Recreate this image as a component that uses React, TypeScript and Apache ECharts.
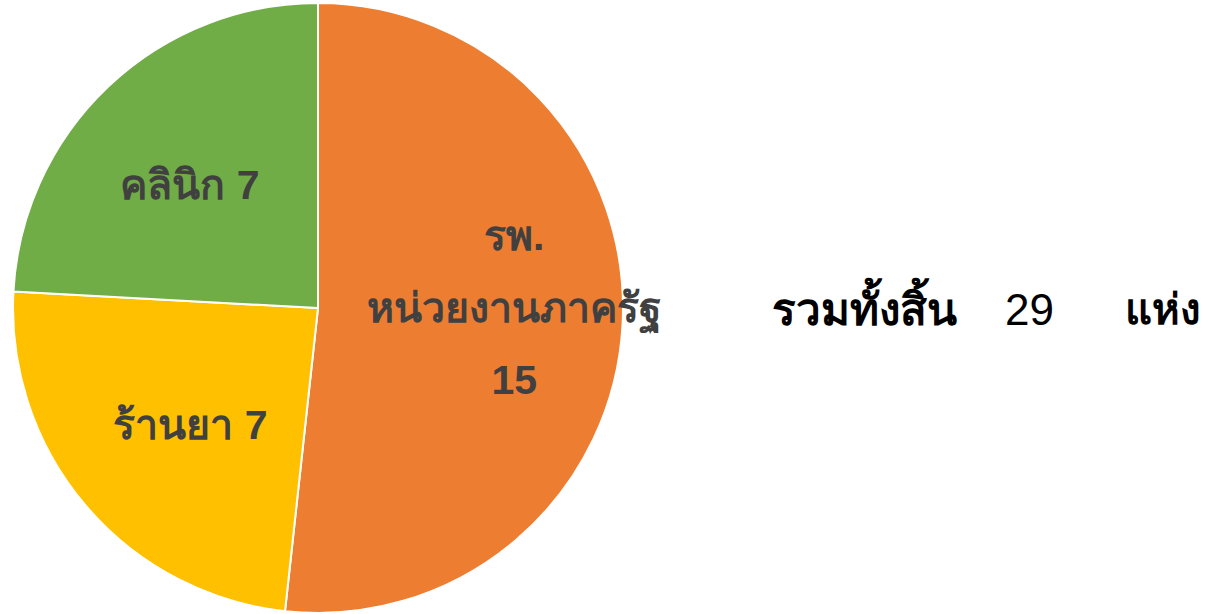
import React, { useEffect, useRef } from "react";
import * as echarts from "echarts";

const categories = ["รพ.\nหน่วยงานภาครัฐ", "ร้านยา", "คลินิก"];
const values = [15, 7, 7];
const colors = ["#ED7D31", "#FFC000", "#70AD47"];
const totalParts = ["รวมทั้งสิ้น", "29", "แห่ง"];

export default function App() {
  const ref = useRef<HTMLDivElement>(null);
  useEffect(() => {
    document.body.style.margin = "0";
    const chart = echarts.init(ref.current!, null, { renderer: "svg" });
    const offsets = [
      [41, -8],
      [-9, 16],
      [-21, -10],
    ];
    const partX = [772, 1005, 1125];
    const partSize = [44, 44, 42];
    const partWeight = ["bold", "normal", "bold"];
    const font = "Liberation Sans, Noto Sans, DejaVu Sans, sans-serif";
    chart.setOption({
      animation: false,
      backgroundColor: "#ffffff",
      series: [
        {
          type: "pie",
          center: [318, 308],
          radius: [0, 305],
          startAngle: 90,
          clockwise: true,
          avoidLabelOverlap: false,
          itemStyle: { borderColor: "#ffffff", borderWidth: 2 },
          label: {
            show: true,
            position: "inside",
            color: "#404040",
            fontSize: 41,
            fontWeight: "bold",
            fontFamily: font,
            lineHeight: 72,
            align: "center",
          },
          labelLine: { show: false },
          data: categories.map((name, i) => ({
            name,
            value: values[i],
            itemStyle: { color: colors[i] },
            label: {
              formatter: i === 0 ? "{b}\n{c}" : "{b} {c}",
              offset: offsets[i],
            },
          })),
        },
      ],
      graphic: totalParts.map((t, i) => ({
        type: "text",
        x: partX[i],
        y: 309,
        style: {
          text: t,
          fill: "#000000",
          fontSize: partSize[i],
          fontWeight: partWeight[i],
          fontFamily: font,
          verticalAlign: "middle",
        },
      })),
    });
    return () => chart.dispose();
  }, []);
  return <div ref={ref} style={{ width: 1227, height: 614 }} />;
}
